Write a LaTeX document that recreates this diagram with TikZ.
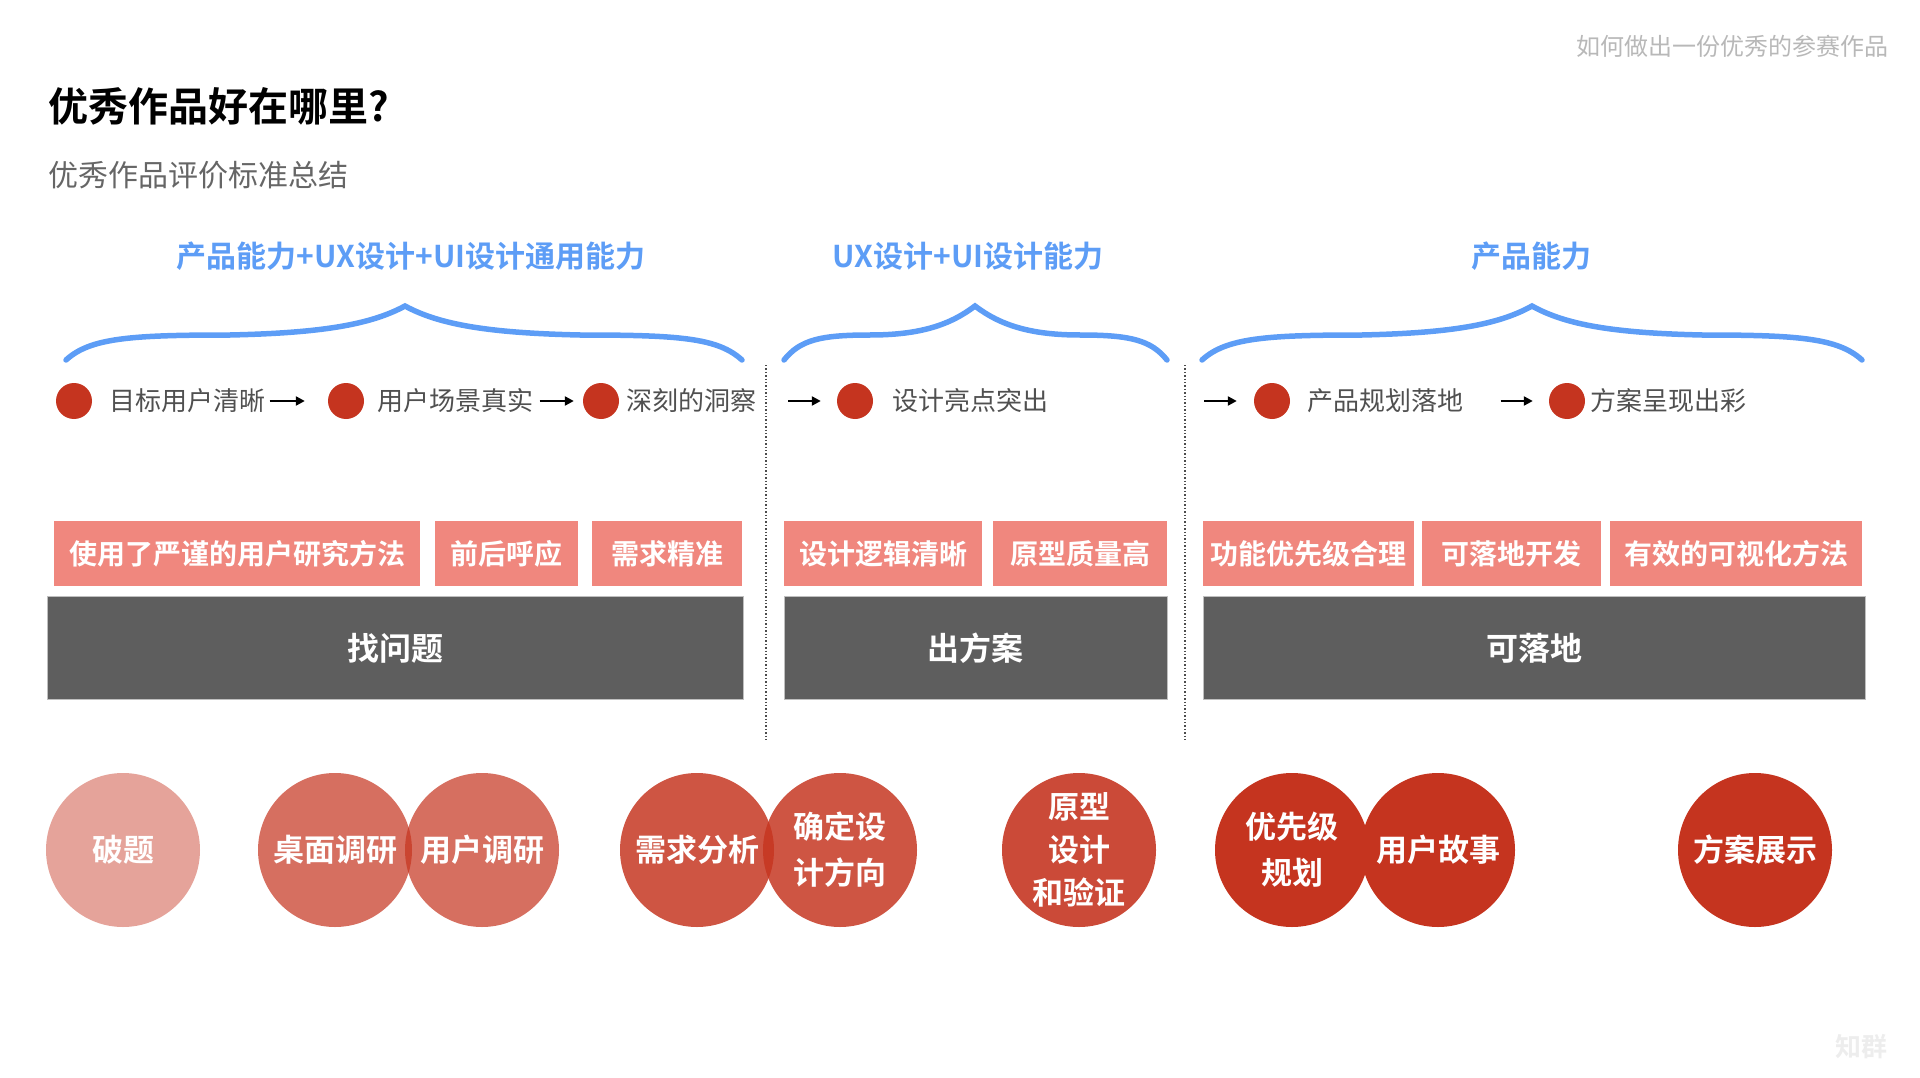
\documentclass[tikz,border=0pt]{standalone}
\usepackage{fontspec}
\setmainfont{Noto Sans CJK SC}[BoldFont={Noto Sans CJK SC Bold}]
\usepackage{xcolor}
\usepackage{tikz}
\usetikzlibrary{arrows.meta,positioning}

\definecolor{capblue}{HTML}{5D9DF6}
\definecolor{dotred}{HTML}{C5341F}
\definecolor{tagpink}{HTML}{F0877E}
\definecolor{stagegray}{HTML}{5E5E5E}
\definecolor{txtgray}{HTML}{505050}

\begin{document}
\begin{tikzpicture}[
  x=1pt, y=-1pt,
  head/.style={font=\bfseries\fontsize{30}{36}\selectfont, text=capblue, inner sep=0},
  brace/.style={draw=capblue, line width=5.5pt, line cap=round},
  dot/.style={circle, fill=dotred, minimum size=36pt, inner sep=0},
  crit/.style={font=\fontsize{26}{30}\selectfont, text=txtgray, inner sep=0},
  arr/.style={-{Triangle[length=9pt, width=9pt]}, line width=2.2pt, draw=black},
  sep/.style={draw=black!70, line width=1.4pt, dotted},
  tag/.style={rectangle, fill=tagpink, text=white, inner sep=0, outer sep=0,
              minimum height=65pt, font=\bfseries\fontsize{28}{32}\selectfont},
  stage/.style={rectangle, fill=stagegray, draw=black!25, line width=1pt, text=white,
                inner sep=0, minimum height=103pt, font=\bfseries\fontsize{32}{36}\selectfont},
  blob/.style={circle, fill=dotred, inner sep=0, minimum size=154pt, text=white,
               text opacity=1, align=center, font=\bfseries\fontsize{31}{46}\selectfont}
]
\useasboundingbox (0,0) rectangle (1920,1078);

\node[anchor=west, inner sep=0, font=\bfseries\fontsize{40}{44}\selectfont] (title) at (48,106) {优秀作品好在哪里?};
\node[anchor=west, inner sep=0, text=black!60, font=\fontsize{30}{34}\selectfont] (sub) at (48,175) {优秀作品评价标准总结};
\node[anchor=east, inner sep=0, text=black!28, font=\fontsize{24}{28}\selectfont] (note) at (1889,46) {如何做出一份优秀的参赛作品};
\node[anchor=east, inner sep=0, text=black!7, font=\bfseries\fontsize{26}{28}\selectfont] (wm) at (1888,1047) {知群};

\node[head] (h1) at (411,256) {产品能力+UX设计+UI设计通用能力};
\node[head] (h2) at (968,256) {UX设计+UI设计能力};
\node[head] (h3) at (1531,256) {产品能力};

\draw[brace] (66,360) .. controls (90,338) and (130,335) .. (230,335) .. controls (320,333) and (370,325) .. (405,306)
  .. controls (440,325) and (490,333) .. (580,335) .. controls (680,335) and (718,338) .. (742,360);
\draw[brace] (784,360) .. controls (800,340) and (820,335) .. (870,335) .. controls (920,335) and (950,325) .. (975,306)
  .. controls (1000,325) and (1030,335) .. (1080,335) .. controls (1130,335) and (1151,340) .. (1167,360);
\draw[brace] (1202,360) .. controls (1226,338) and (1266,335) .. (1362,335) .. controls (1450,333) and (1498,325) .. (1532,306)
  .. controls (1566,325) and (1614,333) .. (1702,335) .. controls (1798,335) and (1838,338) .. (1862,360);

\node[dot] (d1) at (74,401) {};
\node[dot] (d2) at (346,401) {};
\node[dot] (d3) at (601,401) {};
\node[dot] (d4) at (855,401) {};
\node[dot] (d5) at (1272,401) {};
\node[dot] (d6) at (1567,401) {};
\node[crit, right=17pt of d1] (l1) {目标用户清晰};
\node[crit, right=13pt of d2] (l2) {用户场景真实};
\node[crit, right=7pt of d3] (l3) {深刻的洞察};
\node[crit, right=19pt of d4] (l4) {设计亮点突出};
\node[crit, right=17pt of d5] (l5) {产品规划落地};
\node[crit, right=5pt of d6] (l6) {方案呈现出彩};
\coordinate (s1) at (788,401);
\coordinate (s2) at (1204,401);
\draw[arr, shorten <=4pt, shorten >=23pt] (l1) -- (d2);
\draw[arr, shorten <=6pt, shorten >=9pt] (l2) -- (d3);
\draw[arr, shorten >=16pt] (s1) -- (d4);
\draw[arr, shorten >=17pt] (s2) -- (d5);
\draw[arr, shorten <=37pt, shorten >=16pt] (l5) -- (d6);

\draw[sep] (766,365) -- (766,742);
\draw[sep] (1185,365) -- (1185,742);

\node[tag, minimum width=366pt] (t1) at (237,553.5) {使用了严谨的用户研究方法};
\node[tag, minimum width=143pt, right=15pt of t1] (t2) {前后呼应};
\node[tag, minimum width=150pt, right=14pt of t2] (t3) {需求精准};
\node[tag, minimum width=198pt] (t4) at (883,553.5) {设计逻辑清晰};
\node[tag, minimum width=174pt, right=11pt of t4] (t5) {原型质量高};
\node[tag, minimum width=211pt] (t6) at (1308.5,553.5) {功能优先级合理};
\node[tag, minimum width=179pt, right=8pt of t6] (t7) {可落地开发};
\node[tag, minimum width=252pt, right=9pt of t7] (t8) {有效的可视化方法};

\node[stage, minimum width=696pt] (find) at (395,648) {找问题};
\node[stage, minimum width=383pt] (plan) at (975.5,648) {出方案};
\node[stage, minimum width=662pt] (land) at (1534,648) {可落地};

\node[blob, fill opacity=.45] (c1) at (123,850) {破题};
\node[blob, fill opacity=.71] (c2) at (335,850) {桌面调研};
\node[blob, fill opacity=.71] (c3) at (482,850) {用户调研};
\node[blob, fill opacity=.84] (c4) at (697,850) {需求分析};
\node[blob, fill opacity=.84] (c5) at (840,850) {确定设\\计方向};
\node[blob, fill opacity=.89, font=\bfseries\fontsize{31}{43}\selectfont] (c6) at (1079,850) {原型\\设计\\和验证};
\node[blob] (c7) at (1292,850) {优先级\\规划};
\node[blob] (c8) at (1438,850) {用户故事};
\node[blob] (c9) at (1755,850) {方案展示};
\end{tikzpicture}
\end{document}
